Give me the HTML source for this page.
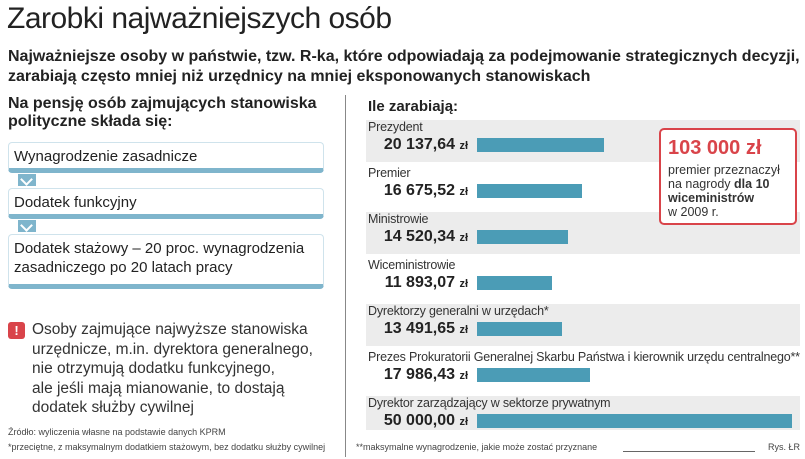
<!DOCTYPE html>
<html><head><meta charset="utf-8"><style>
body{margin:0;width:805px;height:459px;background:#fff;font-family:"Liberation Sans",sans-serif;color:#222;position:relative;overflow:hidden}
.a{position:absolute;white-space:nowrap}
.box{position:absolute;left:8px;width:316px;background:#fff;border:1px solid #cfe3ec;border-bottom:5px solid #7fb5cc;border-radius:4px;box-sizing:border-box;font-size:15px;padding:4px 5px;line-height:19px}
.chev{position:absolute;left:18px;width:18px;height:12px;background:#7fb5cc}
.chev:after{content:"";position:absolute;left:4px;top:1px;width:7px;height:7px;border-right:2px solid #fff;border-bottom:2px solid #fff;transform:rotate(45deg)}
</style></head><body>
<div class="a" style="left:7px;top:2px;font-size:30px;letter-spacing:-0.5px">Zarobki najważniejszych osób</div>
<div class="a" style="left:8px;top:47px;font-size:16px;font-weight:bold;line-height:19.5px">Najważniejsze osoby w państwie, tzw. R-ka, które odpowiadają za podejmowanie strategicznych decyzji,<br>zarabiają często mniej niż urzędnicy na mniej eksponowanych stanowiskach</div>
<div class="a" style="left:8px;top:95px;font-size:16px;font-weight:bold;line-height:18px">Na pensję osób zajmujących stanowiska<br>polityczne składa się:</div>
<div class="box" style="top:142px;height:31px">Wynagrodzenie zasadnicze</div>
<div class="chev" style="top:174px"></div>
<div class="box" style="top:188px;height:31px">Dodatek funkcyjny</div>
<div class="chev" style="top:220px"></div>
<div class="box" style="top:234px;height:55px">Dodatek stażowy – 20 proc. wynagrodzenia<br>zasadniczego po 20 latach pracy</div>
<div class="a" style="left:8px;top:322px;width:17px;height:17px;background:#d9444a;border-radius:3px;color:#fff;font-weight:bold;font-size:13px;text-align:center;line-height:17px">!</div>
<div class="a" style="left:32px;top:320px;font-size:15.5px;line-height:19.5px;color:#333">Osoby zajmujące najwyższe stanowiska<br>urzędnicze, m.in. dyrektora generalnego,<br>nie otrzymują dodatku funkcyjnego,<br>ale jeśli mają mianowanie, to dostają<br>dodatek służby cywilnej</div>
<div class="a" style="left:8px;top:427px;font-size:9px;color:#444">Źródło: wyliczenia własne na podstawie danych KPRM</div>
<div class="a" style="left:8px;top:442px;font-size:9px;color:#444">*przeciętne, z maksymalnym dodatkiem stażowym, bez dodatku służby cywilnej</div>
<div class="a" style="left:345px;top:95px;width:1px;height:362px;background:#888"></div>
<div class="a" style="left:368px;top:98px;font-size:15px;font-weight:bold">Ile zarabiają:</div>
<div id="chart"></div>
<div class="a" style="left:659px;top:128px;width:138px;height:97px;border:2px solid #d9444a;border-radius:5px;background:#fff;box-sizing:border-box"></div>
<div class="a" style="left:668px;top:137px;font-size:20px;font-weight:bold;color:#d9444a">103 000 zł</div>
<div class="a" style="left:668px;top:163px;font-size:12.5px;line-height:14px;color:#333">premier przeznaczył<br>na nagrody <b>dla 10<br>wiceministrów</b><br>w 2009 r.</div>
<div class="a" style="left:356px;top:442px;font-size:9px;color:#444">**maksymalne wynagrodzenie, jakie może zostać przyznane</div>
<div class="a" style="left:623px;top:451px;width:132px;height:1px;background:#666"></div>
<div class="a" style="left:768px;top:442px;font-size:9px;color:#444">Rys. ŁR</div>
<script>
const categories=["Prezydent","Premier","Ministrowie","Wiceministrowie","Dyrektorzy generalni w urzędach*","Prezes Prokuratorii Generalnej Skarbu Państwa i kierownik urzędu centralnego**","Dyrektor zarządzający w sektorze prywatnym"];
const values=[20137.64,16675.52,14520.34,11893.07,13491.65,17986.43,50000];
const valueLabels=["20 137,64","16 675,52","14 520,34","11 893,07","13 491,65","17 986,43","50 000,00"];
const chart=document.getElementById('chart');
const x0=477, xScale=v=>v*315/50000, rowY=i=>120+i*46;
categories.forEach((c,i)=>{
  const top=rowY(i);
  if(i%2===0){const bg=document.createElement('div');bg.className='a';
    
    
    bg.style.cssText=`left:366px;top:${top}px;width:434px;height:${i===6?34:42}px;background:#ececec`;chart.appendChild(bg);}
  const l=document.createElement('div');l.className='a';
  
  
  l.style.cssText=`left:368px;top:${top}px;font-size:12.5px;color:#333;letter-spacing:-0.2px`;l.textContent=c;chart.appendChild(l);
  const v=document.createElement('div');v.className='a';
  
  
  v.style.cssText=`right:${805-468}px;top:${top+16}px;font-size:16px;font-weight:bold;color:#222`;v.innerHTML=valueLabels[i]+' <span style="font-size:11px">zł</span>';chart.appendChild(v);
  const b=document.createElement('div');b.className='a';
  
  
  b.style.cssText=`left:${x0}px;top:${top+18}px;width:${xScale(values[i])}px;height:14px;background:#4b9cb6`;chart.appendChild(b);
});
</script>
</body></html>
